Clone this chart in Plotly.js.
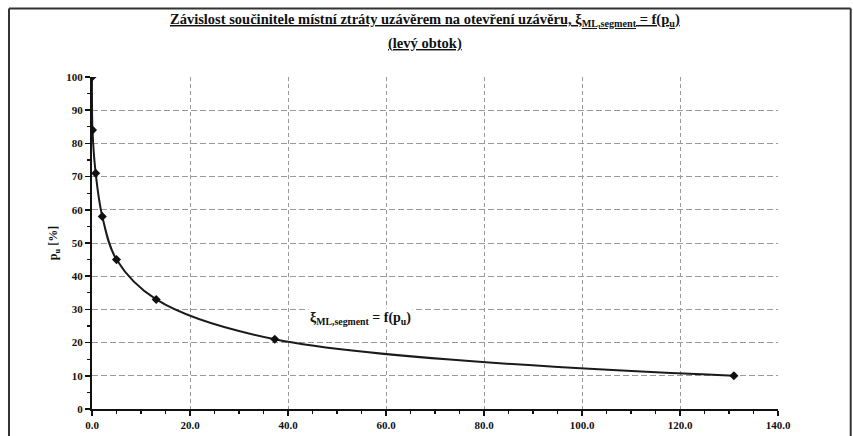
<!DOCTYPE html>
<html>
<head>
<meta charset="utf-8">
<script src="https://cdn.plot.ly/plotly-3.0.1.min.js"></script>
<style>html,body{margin:0;padding:0;background:#fff;}#chart{width:853px;height:436px;}</style>
</head>
<body>
<div id="chart"></div>
<script>
var xiValues = [0.0, 0.1, 0.75, 2.1, 5.0, 13.1, 37.3, 131.0];
var puValues = [100, 84, 71, 58, 45, 33, 21, 10];
var xTickValues = [0, 20, 40, 60, 80, 100, 120, 140];
var yTickValues = [0, 10, 20, 30, 40, 50, 60, 70, 80, 90, 100];

var serif = 'Times New Roman';

var trace = {
  x: xiValues,
  y: puValues,
  type: 'scatter',
  mode: 'lines+markers',
  line: {color: '#1a1a1a', width: 2, shape: 'spline', smoothing: 1},
  marker: {symbol: 'diamond', size: 7, color: '#111'},
  hoverinfo: 'skip',
  showlegend: false
};

var layout = {
  width: 853,
  height: 436,
  margin: {l: 92, r: 75, t: 77, b: 27},
  paper_bgcolor: '#fff',
  plot_bgcolor: '#fff',
  font: {family: serif},
  xaxis: {
    range: [0, 140],
    tickvals: xTickValues,
    tickformat: '.1f',
    showgrid: true,
    gridcolor: '#9a9a9a',
    griddash: '4px,3px',
    gridwidth: 1,
    zeroline: false,
    showline: true,
    linecolor: '#111',
    linewidth: 2,
    ticks: 'outside',
    ticklen: 5,
    tickwidth: 1.5,
    tickcolor: '#111',
    minor: {dtick: 5, ticks: 'outside', ticklen: 3, tickwidth: 1.2, tickcolor: '#111', showgrid: false},
    tickfont: {family: serif, size: 11, color: '#111', weight: 'bold'},
    fixedrange: true
  },
  yaxis: {
    range: [0, 100],
    tickvals: yTickValues,
    showgrid: true,
    gridcolor: '#9a9a9a',
    griddash: '6px,3px',
    gridwidth: 1,
    zeroline: false,
    showline: true,
    linecolor: '#111',
    linewidth: 2,
    ticks: 'outside',
    ticklen: 5,
    tickwidth: 1.5,
    tickcolor: '#111',
    minor: {dtick: 5, ticks: 'outside', ticklen: 3, tickwidth: 1.2, tickcolor: '#111', showgrid: false},
    tickfont: {family: serif, size: 11, color: '#111', weight: 'bold'},
    title: {text: '<b>p<sub>u</sub> [%]</b>', font: {family: serif, size: 12, color: '#111'}, standoff: 6},
    fixedrange: true
  },
  annotations: [
    {
      x: 0.486, y: 1.1705, xref: 'paper', yref: 'paper',
      xanchor: 'center', yanchor: 'middle', showarrow: false,
      text: '<b><u>Závislost součinitele místní ztráty uzávěrem na otevření uzávěru, ξ<sub>ML,segment</sub> = f(p<sub>u</sub>)</u></b>',
      font: {family: serif, size: 14.5, color: '#111'}
    },
    {
      x: 0.486, y: 1.101, xref: 'paper', yref: 'paper',
      xanchor: 'center', yanchor: 'middle', showarrow: false,
      text: '<b><u>(levý obtok)</u></b>',
      font: {family: serif, size: 14.5, color: '#111'}
    },
    {
      x: 44, y: 27.4, xref: 'x', yref: 'y',
      xanchor: 'left', yanchor: 'middle',
      text: '<b>ξ<sub>ML,segment</sub> = f(p<sub>u</sub>)</b>',
      showarrow: false,
      bgcolor: '#fff',
      font: {family: serif, size: 14, color: '#111'}
    }
  ],
  shapes: [
    {type: 'line', xref: 'paper', yref: 'paper', x0: -0.121, x1: 1.106, y0: 1.2066, y1: 1.2066, line: {color: '#333', width: 2}},
    {type: 'line', xref: 'paper', yref: 'paper', x0: -0.121, x1: -0.121, y0: 1.2066, y1: -0.2, line: {color: '#333', width: 2}},
    {type: 'line', xref: 'paper', yref: 'paper', x0: 1.106, x1: 1.106, y0: 1.2066, y1: -0.2, line: {color: '#333', width: 2}}
  ]
};

Plotly.newPlot('chart', [trace], layout, {displayModeBar: false, staticPlot: true});
</script>
</body>
</html>
